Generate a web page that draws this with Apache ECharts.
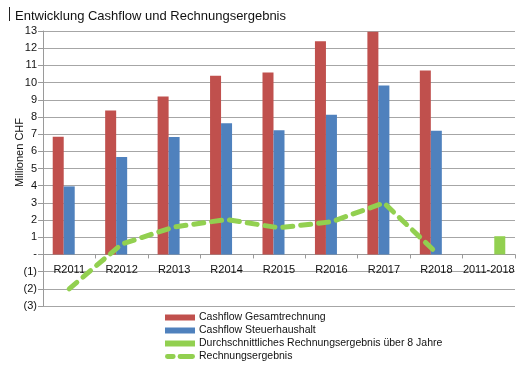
<!DOCTYPE html>
<html>
<head>
<meta charset="utf-8">
<script src="https://cdn.jsdelivr.net/npm/echarts@6/dist/echarts.min.js"></script>
<style>html,body{margin:0;padding:0;background:#fff;}#c{width:521px;height:370px;}</style>
</head>
<body>
<div id="c"></div>
<script>
var categories = ['R2011','R2012','R2013','R2014','R2015','R2016','R2017','R2018','2011-2018'];
var cashflowGesamt = [6.85, 8.37, 9.19, 10.39, 10.58, 12.40, 12.96, 10.70, null];
var cashflowSteuer = [3.96, 5.67, 6.83, 7.64, 7.22, 8.13, 9.83, 7.20, null];
var durchschnitt = [null, null, null, null, null, null, null, null, 1.06];
var rechnungsergebnis = [-2.0, 0.6, 1.6, 2.03, 1.55, 1.9, 3.0, 0.1, null];
var seriesNames = ['Cashflow Gesamtrechnung','Cashflow Steuerhaushalt','Durchschnittliches Rechnungsergebnis über 8 Jahre','Rechnungsergebnis'];
var titleText = 'Entwicklung Cashflow und Rechnungsergebnis';
var yAxisTitle = 'Millionen CHF';
var yMin = -3, yMax = 13;

var font = 'Liberation Sans, Arial, sans-serif';
var gridTop = 31, gridBottom = 64, H = 370;
var plotH = H - gridTop - gridBottom;
var zeroOffset = -plotH * (0 - yMin) / (yMax - yMin);

var chart = echarts.init(document.getElementById('c'), null, {renderer:'canvas'});
chart.setOption({
  animation: false,
  backgroundColor: '#fff',
  title: {
    text: titleText, left: 10, top: 5,
    textStyle: {fontFamily: font, fontSize: 13, fontWeight: 'normal', color: '#111'}
  },
  graphic: [
    {type:'line', shape:{x1:9.5,y1:7,x2:9.5,y2:21}, style:{stroke:'#222', lineWidth:1}},
    {type:'text', left: 14, top: 118, rotation: Math.PI/2,
     style:{text: yAxisTitle, font: '11px ' + font, fill:'#111'}}
  ],
  grid: {left: 43, right: 6, top: gridTop, bottom: gridBottom},
  legend: {
    orient: 'vertical', left: 160, top: 307, height: 62, itemGap: 2,
    itemWidth: 30, itemHeight: 6,
    textStyle: {fontFamily: font, fontSize: 10.5, color: '#111', padding:[0,0,0,-1]},
    data: [
      {name: seriesNames[0], icon: 'rect'},
      {name: seriesNames[1], icon: 'rect'},
      {name: seriesNames[2], icon: 'rect'},
      {name: seriesNames[3], icon: 'path://M2,0H8A2,2,0,0,1,8,5H2A2,2,0,0,1,2,0Z M15,0H28A2,2,0,0,1,28,5H15A2,2,0,0,1,15,0Z', itemStyle: {color: '#92d050'}}
    ]
  },
  xAxis: {
    type: 'category', data: categories, boundaryGap: true,
    offset: zeroOffset,
    axisLine: {onZero: false, lineStyle: {color: '#9a9a9a', width: 1}},
    axisTick: {show: true, length: 4, lineStyle: {color: '#9a9a9a'}},
    axisLabel: {fontFamily: font, fontSize: 11, color: '#111', margin: 10, interval: 0}
  },
  yAxis: {
    type: 'value', min: yMin, max: yMax, interval: 1,
    axisLine: {show: true, lineStyle: {color: '#9a9a9a'}},
    axisTick: {show: true, length: 5, lineStyle: {color: '#9a9a9a'}},
    splitLine: {show: true, lineStyle: {color: '#a6a6a6', width: 1}},
    axisLabel: {
      fontFamily: font, fontSize: 11, color: '#111', margin: 6,
      formatter: function(v){ if (v === 0) return '-'; if (v < 0) return '(' + (-v) + ')'; return String(v); }
    }
  },
  series: [
    {name: seriesNames[0], type: 'bar', data: cashflowGesamt, barWidth: 11, barGap: '0%', itemStyle: {color: '#c0504d'}},
    {name: seriesNames[1], type: 'bar', data: cashflowSteuer, barWidth: 11, barGap: '0%', itemStyle: {color: '#4f81bd'}},
    {name: seriesNames[2], type: 'bar', data: durchschnitt, barWidth: 11, barGap: '0%', itemStyle: {color: '#92d050'}},
    {name: seriesNames[3], type: 'line', data: rechnungsergebnis, symbol: 'none', z: 5,
     lineStyle: {color: '#92d050', width: 5, type: [10, 8], cap: 'round', join: 'round'},
     itemStyle: {color: '#92d050'}}
  ]
});
</script>
</body>
</html>
